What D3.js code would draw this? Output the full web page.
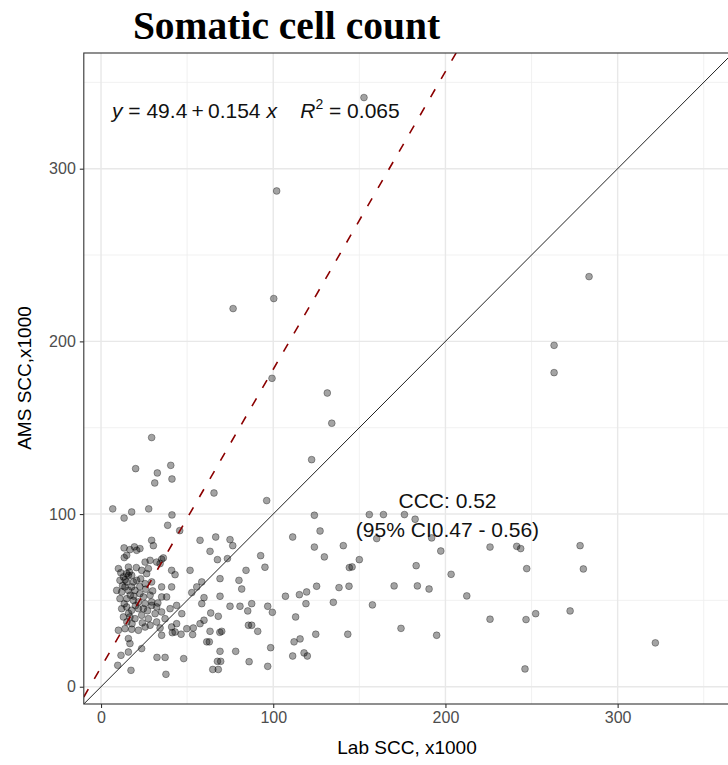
<!DOCTYPE html>
<html><head><meta charset="utf-8">
<script src="https://cdn.jsdelivr.net/npm/d3@7"></script>
<style>body{margin:0;background:#fff}svg{display:block}</style>
</head><body>
<svg id="chart" width="728" height="765"></svg>
<script>
// ---- data (Lab SCC vs AMS SCC, x1000) ----
const labSCC = [
152.7,102,100.3,76.7,99.3,131.4,134,122.3,283.4,263.1,263.1,96.2,65.6,
123.9,111.3,127.2,123.9,140.7,129.7,66.6,74.9,76.5,57.5,63.3,67.6,73.4,92.7,95.2,84.2,80.1,81.7,69.1,58.5,69.1,59.8,58.5,74.9,80.7,87.5,85.2,96.8,99.5,63.7,68.1,59.8,57.5,85.6,87.5,91,63.3,70.1,69,61.4,62.9,69.1,78.2,98.5,67.6,69.5,64.9,68.1,86,96.8,107.1,115.2,119.4,125.2,119,113,134.9,138.2,144,144.2,124.7,112.1,115.6,111.3,117.9,119.8,143.3,
155.8,164,176.2,182.4,160.1,192,150,145.8,170.2,183,183.7,190.5,197.3,203.3,212.4,225.9,241.4,243.7,247.2,157.6,174.2,194.9,225.9,246.8,252.4,246.2,
278.2,280.1,321.9,272.4,
29.4,20.1,40.5,32.7,41.2,31.2,6.8,17.8,13.4,27.7,41.2,38.7,45.7,29.4,30.4,13.4,19.4,22.6,16.8,20.7,14.9,13.5,
25.6,28.5,32.3,36.2,35.2,34.3,10.1,15.9,14.9,15.9,13,17.8,23.6,27.5,26.5,41,43,51.7,11,14.9,18.8,20.7,13.9,17.8,25.6,29.4,35.2,41,9.1,12,15.9,19.7,22.6,24.6,11,14.9,18.8,21.7,25.6,29.4,35.2,38.1,28.5,12,14.9,17.8,21.7,24.6,29.4,32.3,35.2,13,16.8,19.7,23.6,27.5,31.4,40.1,43.9,46.9,37.2,43.9,41,10.1,13.9,17.8,21.7,25.6,28.5,32.3,34.3,35.2,41.4,43,46.5,49.8,53.6,53.2,55.6,52.7,15.9,16.8,23.6,15.9,11.6,9.7,17.4,32.5,37.2,48,37.7,
16.5,14,17,13.5,20,16,22.5,19,12.5,27,18,15,24,11.5,20.5,30,26,33,23
];
const amsSCC = [
341.2,287.1,224.8,219,178.6,170.1,152.6,131.5,237.5,197.7,181.9,107.8,112.2,
99.3,86.7,90.2,80.9,81.7,75.2,86.7,85.2,81.7,84.8,78.4,73.6,74.2,75.9,69.2,67.4,61.6,56.6,62.6,60.7,52.4,51.6,48.1,46.6,46.6,48.1,43.9,46.6,43.1,42.7,40.8,38.5,36.5,35.6,35.6,32.1,32.1,32.1,31.5,26,26,20.5,20.5,22.6,14.7,14.7,10,10,14.5,11.8,52.4,53.3,54.9,58.2,48.1,40.4,48.9,57.4,58.2,69,30.4,26,27.7,17.8,19.6,17.8,30.4,
99.7,99.7,99.7,97,85.8,86.2,73.6,69.4,58.4,70.1,58.4,56.6,78.6,65.1,52.6,80.9,81.3,80,68.4,47.4,33.8,29.8,39.1,38.9,42.3,10.3,
81.7,68.2,25.4,43.9,
144.3,126.3,128.2,123.8,120.3,118,103,101.2,97.7,103,99.5,93.5,90.4,84.8,81.7,80.4,81,80,79.4,79,76.1,74.8,
72.2,73.2,72.2,74.6,73.8,71.3,68.4,69.3,65.5,64.5,63.6,64.5,67.4,68.4,65.5,67.4,64.9,67.4,61.6,60.7,60.7,61.6,57.8,57.8,59.7,60.7,57.8,57.8,55.8,54.9,55.8,55.8,53.9,52,51,51,50,49.1,48.1,49.1,52,52,53,45.2,46.2,44.3,45.2,45.2,47.1,46.2,43.3,40.4,40.4,39.4,41.4,39.4,42.3,45.2,47.1,42.3,39.4,36.5,34.6,32.7,33.6,33.3,32.7,34.6,35.6,37.5,34,29.8,31.3,31.7,30.4,33.6,34,30.2,57.8,54.5,27.9,25,22.1,20.1,18.2,12.4,9.5,17,17,16.3,7.2,
66.5,62,53,48,47,42.5,58,52.5,58.5,44,36.5,37.5,37,66,69,55.5,56.5,48.5,62.5
];
const xTicks = [0, 100, 200, 300];
const yTicks = [0, 100, 200, 300];
const xMinor = [50, 150, 250, 350];
const yMinor = [50, 150, 250, 350];
const fitIntercept = 11.3, fitSlope = 1.725;   // dashed fitted line
const titleText = "Somatic cell count";
const xTitle = "Lab SCC, x1000";
const yTitle = "AMS SCC,x1000";
const cccLines = ["CCC: 0.52", "(95% CI0.47 - 0.56)"];

// ---- drawing ----
const svg = d3.select("#chart");
const xs = d3.scaleLinear().domain([-10, 380]).range([83.8, 755.4]);
const ys = d3.scaleLinear().domain([-10, 367]).range([704, 53]);
const L = xs.range()[0], R = xs.range()[1], T = ys.range()[1], B = ys.range()[0];
const font = "'Liberation Sans', Arial, sans-serif";

svg.append("defs").append("clipPath").attr("id","clip")
  .append("rect").attr("x",L).attr("y",T).attr("width",R-L).attr("height",B-T);

const grid = svg.append("g").attr("clip-path","url(#clip)");
grid.selectAll(".vmin").data(xMinor).join("line")
  .attr("x1",d=>xs(d)).attr("x2",d=>xs(d)).attr("y1",T).attr("y2",B)
  .attr("stroke","#ededed").attr("stroke-width",0.8);
grid.selectAll(".hmin").data(yMinor).join("line")
  .attr("y1",d=>ys(d)).attr("y2",d=>ys(d)).attr("x1",L).attr("x2",R)
  .attr("stroke","#ededed").attr("stroke-width",0.8);
grid.selectAll(".vmaj").data(xTicks).join("line")
  .attr("x1",d=>xs(d)).attr("x2",d=>xs(d)).attr("y1",T).attr("y2",B)
  .attr("stroke","#e8e8e8").attr("stroke-width",1.4);
grid.selectAll(".hmaj").data(yTicks).join("line")
  .attr("y1",d=>ys(d)).attr("y2",d=>ys(d)).attr("x1",L).attr("x2",R)
  .attr("stroke","#e8e8e8").attr("stroke-width",1.4);

const plot = svg.append("g").attr("clip-path","url(#clip)");
// points
plot.selectAll("circle").data(labSCC.map((v,i)=>[v, amsSCC[i]])).join("circle")
  .attr("cx",d=>xs(d[0])).attr("cy",d=>ys(d[1])).attr("r",3.4)
  .attr("fill","rgba(0,0,0,0.36)").attr("stroke","rgba(0,0,0,0.33)").attr("stroke-width",1);
// identity line
plot.append("line").attr("x1",xs(-10)).attr("y1",ys(-10)).attr("x2",xs(380)).attr("y2",ys(380))
  .attr("stroke","#222").attr("stroke-width",1);
// fitted dashed line
const fx0 = -10, fx1 = (367 - fitIntercept) / fitSlope + 5;
plot.append("line").attr("x1",xs(fx0)).attr("y1",ys(fitIntercept+fitSlope*fx0))
  .attr("x2",xs(fx1)).attr("y2",ys(fitIntercept+fitSlope*fx1))
  .attr("stroke","#8b0000").attr("stroke-width",1.6).attr("stroke-dasharray","9,12");

// border
svg.append("rect").attr("x",L).attr("y",T).attr("width",R-L).attr("height",B-T)
  .attr("fill","none").attr("stroke","#333").attr("stroke-width",1.1);

// axes
const xAxis = svg.append("g").attr("transform",`translate(0,${B})`)
  .call(d3.axisBottom(xs).tickValues(xTicks).tickSize(4).tickPadding(4));
const yAxis = svg.append("g").attr("transform",`translate(${L},0)`)
  .call(d3.axisLeft(ys).tickValues(yTicks).tickSize(4).tickPadding(4));
[xAxis, yAxis].forEach(a=>{
  a.select(".domain").remove();
  a.selectAll(".tick line").attr("stroke","#333").attr("stroke-width",1.1);
  a.selectAll(".tick text").attr("fill","#4d4d4d").style("font-family",font).style("font-size","16px");
});

// titles
svg.append("text").attr("x",286.5).attr("y",39).attr("text-anchor","middle")
  .style("font-family","'Liberation Serif','Times New Roman',serif").style("font-weight","bold")
  .style("font-size","39.5px").attr("fill","#000").text(titleText);
svg.append("text").attr("x",407).attr("y",754).attr("text-anchor","middle")
  .style("font-family",font).style("font-size","19px").attr("fill","#000").text(xTitle);
svg.append("text").attr("transform","translate(31,378) rotate(-90)").attr("text-anchor","middle")
  .style("font-family",font).style("font-size","19px").attr("fill","#000").text(yTitle);

// equation
const eq = svg.append("text").attr("x",112).attr("y",118)
  .style("font-family",font).style("font-size","21px").attr("fill","#111");
eq.append("tspan").style("font-style","italic").text("y");
eq.append("tspan").text(" = 49.4\u2009+\u20090.154 ");
eq.append("tspan").style("font-style","italic").text("x");
eq.append("tspan").text("\u00a0\u00a0\u00a0\u00a0");
eq.append("tspan").style("font-style","italic").text("R");
eq.append("tspan").attr("dy",-9).style("font-size","14px").text("2");
eq.append("tspan").attr("dy",9).text(" = 0.065");

// CCC annotation
svg.append("g").selectAll("text").data(cccLines).join("text")
  .attr("x",447.5).attr("y",(d,i)=>508 + i*29).attr("text-anchor","middle")
  .style("font-family",font).style("font-size","21px").attr("fill","#111").text(d=>d);
</script>
</body></html>
